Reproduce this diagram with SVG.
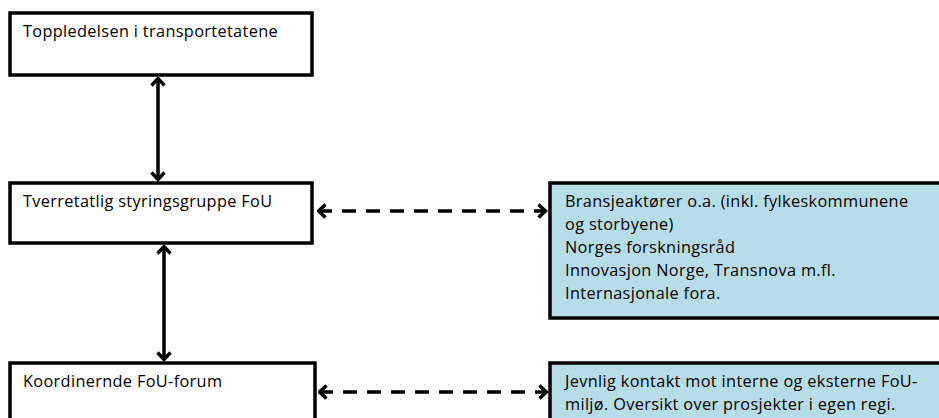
<svg xmlns="http://www.w3.org/2000/svg" width="939" height="418" viewBox="0 0 939 418">
<style>
  .box { fill: #ffffff; stroke: #000000; stroke-width: 3.5; }
  .blue { fill: #b7dde8; stroke: #000000; stroke-width: 3.5; }
  .t { font-family: "Open Sans", "Liberation Sans", sans-serif; font-size: 16.3px; letter-spacing: 0.35px; fill: #000000; }
  .solid { stroke: #000000; stroke-width: 3.5; fill: none; }
  .dash { stroke: #000000; stroke-width: 3.5; fill: none; stroke-dasharray: 14 10; }
</style>
<defs>
  <marker id="chev" markerUnits="userSpaceOnUse" viewBox="0 0 12 16" refX="10.5" refY="8" markerWidth="12" markerHeight="16" orient="auto-start-reverse">
    <path d="M3,1.5 L10,8 L3,14.5" fill="none" stroke="#000000" stroke-width="3.4" stroke-dasharray="none"/>
  </marker>
</defs>
<g id="connectors">
  <line class="solid" x1="158" y1="78" x2="158" y2="180" marker-start="url(#chev)" marker-end="url(#chev)"/>
  <line class="solid" x1="164" y1="246" x2="164" y2="360" marker-start="url(#chev)" marker-end="url(#chev)"/>
  <line class="dash" x1="318" y1="211" x2="546" y2="211" marker-start="url(#chev)" marker-end="url(#chev)"/>
  <line class="dash" x1="319" y1="392" x2="547" y2="392" marker-start="url(#chev)" marker-end="url(#chev)"/>
</g>
<g id="node-toppledelsen">
  <rect class="box" x="10" y="13" width="302" height="62"/>
  <text class="t" x="23" y="37">Toppledelsen i transportetatene</text>
</g>
<g id="node-styringsgruppe">
  <rect class="box" x="10" y="183" width="302" height="60"/>
  <text class="t" x="23" y="207">Tverretatlig styringsgruppe FoU</text>
</g>
<g id="node-forum">
  <rect class="box" x="10" y="363" width="305" height="70"/>
  <text class="t" x="23" y="387">Koordinernde FoU-forum</text>
</g>
<g id="node-bransje">
  <rect class="blue" x="550" y="183" width="400" height="135"/>
  <text class="t" x="565" y="207">Bransjeaktører o.a. (inkl. fylkeskommunene</text>
  <text class="t" x="565" y="230">og storbyene)</text>
  <text class="t" x="565" y="253">Norges forskningsråd</text>
  <text class="t" x="565" y="276">Innovasjon Norge, Transnova m.fl.</text>
  <text class="t" x="565" y="299">Internasjonale fora.</text>
</g>
<g id="node-kontakt">
  <rect class="blue" x="550" y="363" width="400" height="70"/>
  <text class="t" x="565" y="387">Jevnlig kontakt mot interne og eksterne FoU-</text>
  <text class="t" x="565" y="410">miljø. Oversikt over prosjekter i egen regi.</text>
</g>
</svg>
